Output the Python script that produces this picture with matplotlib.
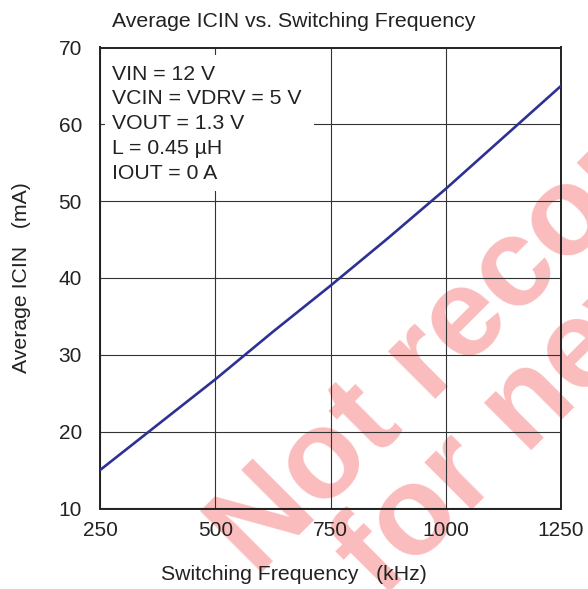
import numpy as np
import matplotlib
matplotlib.use("Agg")
import matplotlib.pyplot as plt
from matplotlib.patches import Rectangle

# values
freq_khz = [250, 375, 500, 625, 750, 875, 1000, 1125, 1250]
icin_ma = [15.0, 20.9, 26.8, 33.0, 39.0, 45.2, 51.6, 58.3, 65.0]

x_ticks = [250, 500, 750, 1000, 1250]
y_ticks = [10, 20, 30, 40, 50, 60, 70]

conditions = ["VIN = 12 V", "VCIN = VDRV = 5 V", "VOUT = 1.3 V",
              "L = 0.45 \u00b5H", "IOUT = 0 A"]

plt.rcParams['font.family'] = ['Liberation Sans', 'DejaVu Sans']

W, H = 588, 589
fig = plt.figure(figsize=(W / 100, H / 100), dpi=100)
ax = fig.add_axes([100 / W, 1 - 508.5 / H, 461 / W, 461 / H])
ax.patch.set_facecolor('none')

# watermark behind everything
fig.text(1.127, 0.66, "Not recommended\nfor new designs", rotation=45,
         rotation_mode='anchor', ha='center', va='center', fontsize=91,
         fontweight='bold', color='#fabcbc', linespacing=0.85, zorder=-5)

ax.plot(freq_khz, icin_ma, color='#2e3192', linewidth=1.9, zorder=3)

ax.set_xlim(250, 1250)
ax.set_ylim(10, 70)
ax.set_xticks(x_ticks)
ax.set_yticks(y_ticks)
ax.tick_params(length=0, labelsize=15, colors='#222222')
ax.tick_params(axis='y', pad=13)
ax.tick_params(axis='x', pad=9)
ax.grid(True, color='#333333', linewidth=0.8)
for s in ax.spines.values():
    s.set_linewidth(1.4)
    s.set_color('#222222')

# white box behind the test conditions
ax.add_patch(Rectangle((0.011, 0.689), 0.453, 0.295, transform=ax.transAxes,
                       facecolor='white', edgecolor='none', zorder=2))
ax.text(0.026, 0.963, "\n".join(conditions), transform=ax.transAxes,
        ha='left', va='top', fontsize=15.3, color='#222222', linespacing=1.39,
        zorder=4)

fig.text(0.5, 0.954, "Average ICIN vs. Switching Frequency", ha='center',
         va='baseline', fontsize=15.3, color='#222222')
fig.text(0.5, 0.015, "Switching Frequency   (kHz)", ha='center',
         va='baseline', fontsize=15.3, color='#222222')
fig.text(0.0374, 0.528, "Average ICIN   (mA)", rotation=90, ha='center',
         va='center', fontsize=15.3, color='#222222')

fig.savefig("out.png", dpi=100)
